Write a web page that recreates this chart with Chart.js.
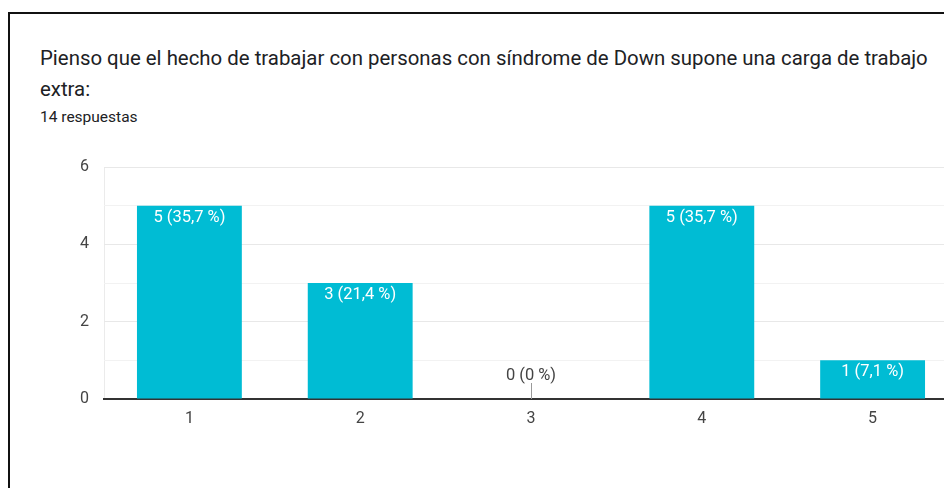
<!DOCTYPE html>
<html>
<head>
<meta charset="utf-8">
<script src="https://cdn.jsdelivr.net/npm/chart.js@4"></script>
<style>
  html, body { margin: 0; padding: 0; width: 944px; height: 488px; overflow: hidden; background: #fff; }
  .card { position: absolute; left: 8px; top: 12px; width: 1000px; height: 520px; border: 2px solid #111; box-sizing: border-box; }
  .titulo { position: absolute; left: 40px; top: 43px; width: 900px; font-family: Roboto, sans-serif; font-size: 20.4px; line-height: 31px; color: #202124; }
  .respuestas { position: absolute; left: 40px; top: 108px; font-family: Roboto, sans-serif; font-size: 15.5px; color: #202124; }
  #grafico { position: absolute; left: 0; top: 140px; }
</style>
</head>
<body>
<div class="card"></div>
<div class="titulo">Pienso que el hecho de trabajar con personas con síndrome de Down supone una carga de trabajo extra:</div>
<div class="respuestas">14 respuestas</div>
<canvas id="grafico" width="958" height="300"></canvas>
<script>
// respuestas por valor de la escala
const opciones = ['1', '2', '3', '4', '5'];
const respuestas = [5, 3, 0, 5, 1];
const marcasEje = [0, 2, 4, 6];
const total = respuestas.reduce((a, b) => a + b, 0);

const etiqueta = (v) => {
    const pct = Math.round(v / total * 1000) / 10;
    return v + ' (' + String(pct).replace('.', ',') + ' %)';
};

// etiquetas dentro de las barras (o encima si el valor es 0)
const etiquetasBarras = {
    id: 'etiquetasBarras',
    afterDatasetsDraw(chart) {
        const ctx = chart.ctx;
        const meta = chart.getDatasetMeta(0);
        const y0 = chart.scales.y.getPixelForValue(0);
        ctx.save();
        ctx.font = '16.5px Roboto';
        ctx.textAlign = 'center';
        ctx.textBaseline = 'middle';
        meta.data.forEach((bar, i) => {
            const v = respuestas[i];
            if (v === 0) {
                ctx.strokeStyle = '#999';
                ctx.lineWidth = 1;
                ctx.beginPath();
                ctx.moveTo(Math.round(bar.x) + 0.5, y0 - 16);
                ctx.lineTo(Math.round(bar.x) + 0.5, y0);
                ctx.stroke();
                ctx.fillStyle = '#444';
                ctx.fillText(etiqueta(v), bar.x, y0 - 23);
            } else {
                ctx.fillStyle = '#fff';
                ctx.fillText(etiqueta(v), bar.x, bar.y + 12);
            }
        });
        ctx.restore();
    }
};

new Chart(document.getElementById('grafico'), {
    type: 'bar',
    data: {
        labels: opciones,
        datasets: [{
            data: respuestas,
            backgroundColor: '#00BCD4',
            categoryPercentage: 1,
            barPercentage: 0.614
        }]
    },
    options: {
        responsive: false,
        animation: false,
        layout: { padding: { top: 27, right: 0, bottom: 0, left: 0 } },
        plugins: { legend: { display: false }, tooltip: { enabled: false } },
        scales: {
            x: {
                grid: {
                    drawTicks: false,
                    color: (c) => c.index === 0 ? '#ebebeb' : 'rgba(0,0,0,0)'
                },
                border: { display: true, color: '#333', width: 2 },
                ticks: { color: '#444', font: { family: 'Roboto', size: 16 }, padding: 10 },
                afterFit: (s) => { s.height = 41; }
            },
            y: {
                min: 0,
                max: 6,
                afterBuildTicks: (s) => { s.ticks = [0, 1, 2, 3, 4, 5, 6].map(v => ({ value: v })); },
                grid: {
                    drawTicks: false,
                    color: (c) => c.tick.value % 2 === 0 ? '#e8e8e8' : '#f2f2f2'
                },
                border: { display: false },
                ticks: {
                    color: '#444',
                    font: { family: 'Roboto', size: 16 },
                    padding: 15,
                    callback: (v) => marcasEje.includes(v) ? String(v) : ''
                },
                afterFit: (s) => { s.width = 104; }
            }
        }
    },
    plugins: [etiquetasBarras]
});
</script>
</body>
</html>
